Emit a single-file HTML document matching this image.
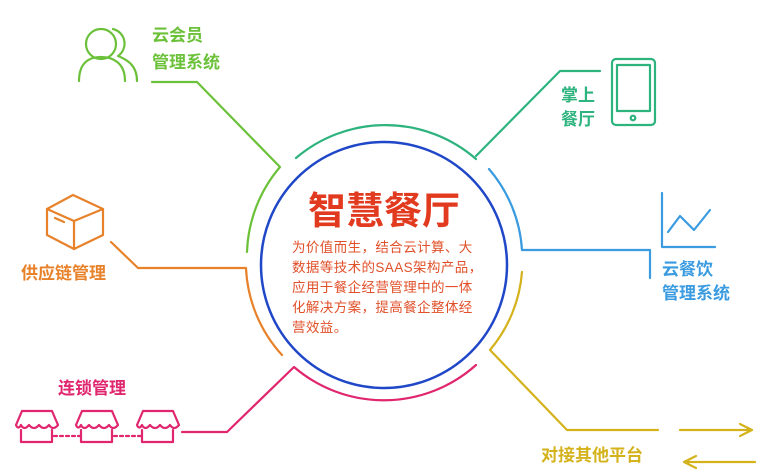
<!DOCTYPE html>
<html><head><meta charset="utf-8"><style>
html,body{margin:0;padding:0;background:#fff;}
svg{display:block;font-family:"Liberation Sans","Noto Sans CJK SC",sans-serif;}
</style></head><body>
<svg width="762" height="472" viewBox="0 0 762 472">
<g fill="none" stroke-width="2.2" stroke-linecap="round" stroke-linejoin="round">
  <circle cx="384" cy="265" r="123" stroke="#1f47c8" stroke-width="2.5"/>
  <path d="M247,252 A138,138 0 0 1 280,167 L197,82 L152,82" stroke="#6cc13a"/>
  <path d="M296,158 A138,138 0 0 1 476,159" stroke="#2db37e"/>
  <path d="M476,156 L560,71 L600,71" stroke="#2db37e"/>
  <path d="M489,169 A138,138 0 0 1 522,250 L650,250 L650,278" stroke="#3a9be0"/>
  <path d="M522,272 A138,138 0 0 1 490,350 L567,430 L658,430" stroke="#d4b21c"/>
  <path d="M476,365 A138,138 0 0 1 294,367 L227,432 L182,432" stroke="#e0266e"/>
  <path d="M282,355 A138,138 0 0 1 246,268 L138,268 L111,242" stroke="#e8822a"/>

  <g stroke="#6cc13a">
    <circle cx="101" cy="44" r="15"/>
    <path d="M79,81 C79,62 90,57 101,57 C112,57 125,62 125,81"/>
    <path d="M113,29 A15,15 0 0 1 118,56 C128,60 137,66 137,81"/>
  </g>
  <g stroke="#e8822a">
    <path d="M47,209 L73,195 L103,209 L74,221 Z"/>
    <path d="M47,209 L47,235 L74,249 L103,235 L103,209"/>
    <path d="M74,221 L74,249"/>
    <path d="M55,218 L64,222"/>
  </g>
  <g stroke="#2db37e">
    <rect x="612" y="59" width="43" height="66" rx="4"/>
    <rect x="617" y="65" width="33" height="46"/>
    <circle cx="633" cy="118" r="2.3"/>
  </g>
  <g stroke="#3a9be0">
    <path d="M662,193 L662,247 L715,247"/>
    <path d="M668,232 L680,216 L694,230 L710,210"/>
  </g>
  <g stroke="#d4b21c">
    <path d="M680,430 L752,430 M740,424 L752,430 L740,436"/>
    <path d="M755,462 L684,462 M696,456 L684,462 L696,468"/>
  </g>
  <g stroke="#e0266e">
    <g><path d="M16,425 L22,411 L52,411 L58,425 Q53,431 49,425 Q44,431 39,425 Q34,431 29,425 Q24,431 21,425 Q18,430 16,425"/><path d="M21,430 L21,442 L52,442 L52,430"/></g>
    <g><path d="M76,425 L82,411 L112,411 L118,425 Q113,431 109,425 Q104,431 99,425 Q94,431 89,425 Q84,431 81,425 Q78,430 76,425"/><path d="M81,430 L81,442 L112,442 L112,430"/></g>
    <g><path d="M137,425 L143,411 L173,411 L179,425 Q174,431 170,425 Q165,431 160,425 Q155,431 150,425 Q145,431 142,425 Q139,430 137,425"/><path d="M142,430 L142,442 L173,442 L173,430"/></g>
    <path d="M54,436 L80,436 M114,436 L141,436" stroke-dasharray="3,3"/>
  </g>
</g>
<g font-weight="bold" font-size="17">
  <text x="152" y="41" fill="#6cc13a">云会员</text>
  <text x="152" y="68" fill="#6cc13a">管理系统</text>
  <text x="561" y="101" fill="#2db37e">掌上</text>
  <text x="561" y="125" fill="#2db37e">餐厅</text>
  <text x="662" y="275" fill="#3a9be0">云餐饮</text>
  <text x="662" y="299" fill="#3a9be0">管理系统</text>
  <text x="21" y="279" fill="#e8822a">供应链管理</text>
  <text x="58" y="394" fill="#e0266e">连锁管理</text>
  <text x="541" y="461" fill="#d4b21c">对接其他平台</text>
</g>
<text x="384" y="224" text-anchor="middle" font-size="38" font-weight="bold" fill="#e23a1f">智慧餐厅</text>
<g font-size="13.5" fill="#e0502a" letter-spacing="0.4">
  <text x="292" y="252">为价值而生，结合云计算、大</text>
  <text x="292" y="272">数据等技术的SAAS架构产品，</text>
  <text x="292" y="292">应用于餐企经营管理中的一体</text>
  <text x="292" y="312">化解决方案，提高餐企整体经</text>
  <text x="292" y="332">营效益。</text>
</g>
</svg>
</body></html>
